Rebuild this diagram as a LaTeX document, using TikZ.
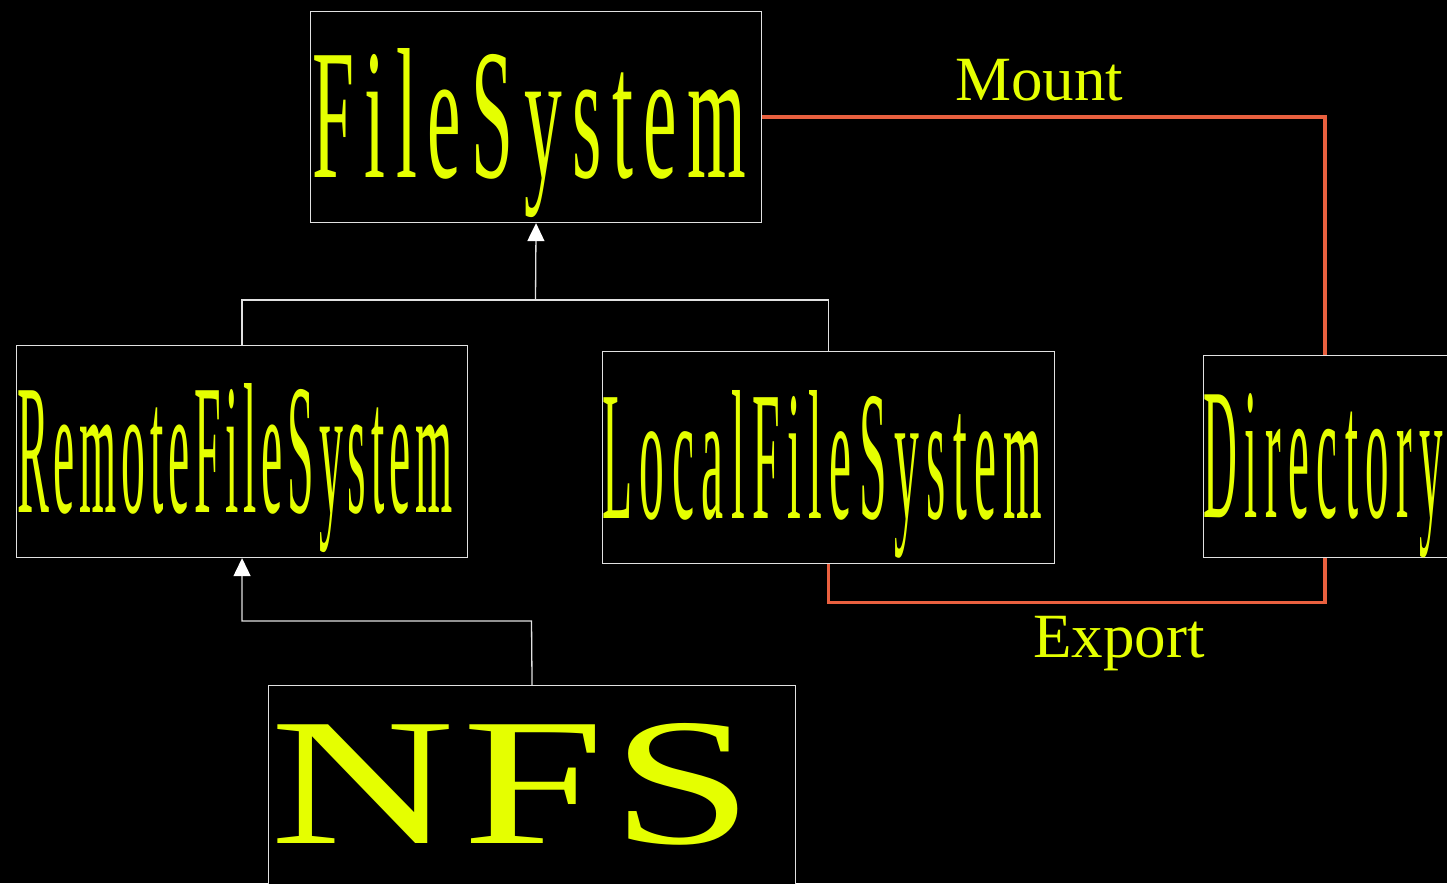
\documentclass[tikz,border=0pt]{standalone}
\usepackage{fontspec}
\setmainfont{Liberation Serif}
\usepackage{graphicx}
\usetikzlibrary{arrows.meta}
\definecolor{txtyellow}{RGB}{229,255,0}
\definecolor{relred}{RGB}{233,96,63}
\definecolor{linegrey}{RGB}{225,225,225}
\newcommand{\stretched}[4]{\resizebox{#1pt}{#2pt}{\addfontfeature{LetterSpace=#3}#4}}
\tikzset{
  classbox/.style={draw=linegrey, line width=1.1pt, fill=black, inner sep=0pt, anchor=north west},
  classname/.style={text=txtyellow, inner sep=0pt, anchor=base west},
  inherit/.style={draw=linegrey, line width=1.3pt},
  inhtip/.style={-{Triangle[width=17pt,length=18pt,fill=white,color=white]}},
  assoc/.style={draw=relred, line width=3.2pt},
  assoclabel/.style={text=txtyellow, inner sep=0pt, anchor=base west, font=\fontsize{63}{70}\selectfont}
}
\begin{document}
\begin{tikzpicture}[x=1pt,y=-1pt]
\fill[black] (0,0) rectangle (1447,883);
\useasboundingbox (0,0) rectangle (1447,883);

% boxes
\node[classbox, minimum width=451pt, minimum height=211pt] (fs) at (310,11) {};
\node[classbox, minimum width=451pt, minimum height=212pt] (rfs) at (16,345) {};
\node[classbox, minimum width=452pt, minimum height=212pt] (lfs) at (602,351) {};
\node[classbox, minimum width=262pt, minimum height=202pt] (dir) at (1203,355) {};
\node[classbox, minimum width=527pt, minimum height=230pt] (nfs) at (268,685) {};

% names
\node[classname] (fst) at (312,177) {\stretched{434}{129}{14}{FileSystem}};
\node[classname] (rfst) at (17,512) {\stretched{435}{129}{10}{RemoteFileSystem}};
\node[classname] (lfst) at (602,518) {\stretched{440}{128}{15}{LocalFileSystem}};
\node[classname] (dirt) at (1203,517) {\stretched{240}{124}{16}{Directory}};
\node[classname] (nfst) at (270,843) {\stretched{484}{120}{3}{NFS}};

% inheritance
\coordinate (j1) at (535.5,300);
\draw[inherit] (rfs.north) |- (j1) -| (lfs.north);
\draw[inherit, inhtip] (j1) -- (fs.south);
\coordinate (j2) at (531.5,621);
\draw[inherit, inhtip] (nfs.north) -- (j2) -| (rfs.south);

% associations
\coordinate (dirtop) at ([xshift=122pt]dir.north west);
\coordinate (dirbot) at ([xshift=122pt]dir.south west);
\draw[assoc] (fs.east) -| (dirtop);
\draw[assoc] (lfs.south) -- ++(0,38) -| (dirbot);
\node[assoclabel] (mount) at (955,100) {Mount};
\node[assoclabel] (export) at (1033,657) {Export};
\end{tikzpicture}
\end{document}
